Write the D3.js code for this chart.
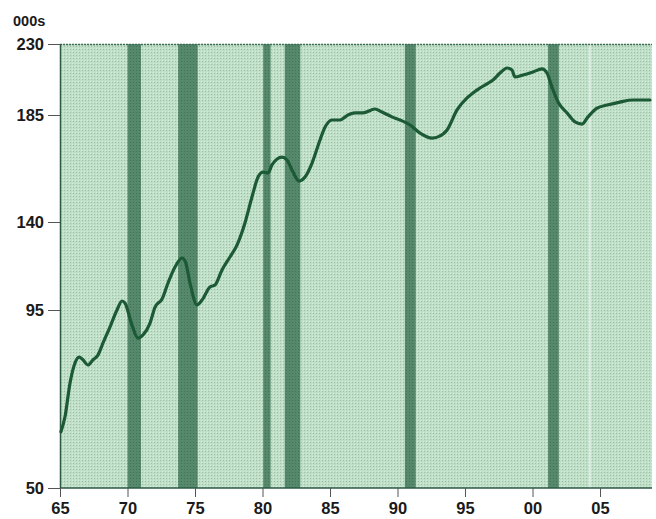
<!DOCTYPE html>
<html>
<head>
<meta charset="utf-8">
<script src="https://cdn.jsdelivr.net/npm/d3@7"></script>
<style>
  body { margin: 0; background: #fff; }
  #chart text { font-family: "Liberation Sans", Arial, sans-serif; font-weight: bold; fill: #1a1a1a; }
</style>
</head>
<body>
<div id="chart"></div>
<script>
// line data (decimal year, thousands)
const years = [1965.07, 1965.37, 1965.74, 1966.11, 1966.41, 1966.70, 1967.07, 1967.44, 1967.81, 1968.19,
  1968.70, 1969.22, 1969.59, 1969.81, 1970.33, 1970.78, 1971.15, 1971.67, 1972.04, 1972.56,
  1973.00, 1973.52, 1974.04, 1974.30, 1974.63, 1975.15, 1975.52, 1976.11, 1976.48, 1977.00,
  1977.59, 1978.11, 1978.70, 1979.22, 1979.67, 1980.04, 1980.41, 1980.70, 1981.44, 1981.81,
  1982.26, 1982.70, 1983.15, 1983.67, 1984.26, 1984.60, 1985.15, 1985.74, 1986.33, 1986.85,
  1987.44, 1988.33, 1988.85, 1989.59, 1990.19, 1990.93, 1991.67, 1992.56, 1993.00, 1993.67,
  1994.41, 1995.15, 1995.59, 1996.11, 1996.85, 1997.07, 1997.59, 1998.11, 1998.48, 1998.70,
  1999.30, 2000.04, 2000.70, 2001.07, 2001.44, 2001.89, 2002.56, 2003.15, 2003.67, 2004.11,
  2004.78, 2005.52, 2006.48, 2007.44, 2008.70];
const values = [64.2, 68.0, 76.5, 81.6, 83.1, 82.4, 81.1, 82.4, 83.6, 86.7,
  90.7, 95.0, 99.6, 98.6, 91.2, 87.9, 88.7, 91.7, 96.5, 100.6,
  108.8, 117.0, 121.6, 119.5, 108.8, 97.6, 100.1, 106.8, 107.8, 115.5,
  122.1, 128.2, 139.5, 150.5, 158.9, 161.0, 160.6, 164.0, 167.3, 166.1,
  161.0, 157.2, 158.9, 164.8, 174.5, 179.5, 182.9, 182.9, 185.0, 186.3,
  186.3, 188.8, 186.9, 184.2, 182.9, 180.8, 177.4, 175.3, 175.8, 178.7,
  188.2, 195.8, 199.0, 202.1, 205.9, 207.2, 211.6, 214.8, 213.5, 209.1,
  210.4, 212.3, 214.2, 211.6, 202.7, 193.2, 186.3, 182.1, 181.2, 184.2,
  189.4, 191.3, 193.2, 194.5, 194.5];

// recessions (shaded bars)
const recStart = [1970.0, 1973.75, 1980.05, 1981.65, 1990.55, 2001.15];
const recEnd   = [1971.0, 1975.2, 1980.6, 1982.8, 1991.35, 2001.95];

// axes
const yTicks = [50, 95, 140, 185, 230];
const xTicks = [1965, 1970, 1975, 1980, 1985, 1990, 1995, 2000, 2005];
const xTickLabels = ["65", "70", "75", "80", "85", "90", "95", "00", "05"];
const unitLabel = "000s";
const markerYear = 2004.25;

/** SIZING */
const width = 656, height = 519;
const pLeft = 60, pRight = 652, pTop = 44, pBottom = 488;

const svg = d3.select("#chart").append("svg")
  .attr("width", width).attr("height", height);

const x = d3.scaleLinear().domain([1965, 2008.85]).range([pLeft, pRight]);
// the published axis is not evenly spaced, so map each tick to where it sits
const y = d3.scaleLinear().domain(yTicks).range([pBottom, 310, 222, 115, pTop]);

/** PATTERNS */
const defs = svg.append("defs");
let bg = defs.append("pattern").attr("id", "bgdots")
  .attr("width", 3).attr("height", 3).attr("patternUnits", "userSpaceOnUse");
bg.append("rect").attr("width", 3).attr("height", 3).attr("fill", "#bfdfc7");
bg.append("rect").attr("x", 1).attr("y", 1).attr("width", 1).attr("height", 1).attr("fill", "#a2bcaa");
bg.append("rect").attr("x", 0).attr("y", 0).attr("width", 1).attr("height", 1).attr("fill", "#d0efe0");

let rb = defs.append("pattern").attr("id", "recdots")
  .attr("width", 3).attr("height", 3).attr("patternUnits", "userSpaceOnUse");
rb.append("rect").attr("width", 3).attr("height", 3).attr("fill", "#56886c");
rb.append("rect").attr("x", 1).attr("y", 1).attr("width", 1).attr("height", 1).attr("fill", "#42725a");

/** PLOT BACKGROUND */
svg.append("rect")
  .attr("x", pLeft).attr("y", pTop)
  .attr("width", pRight - pLeft).attr("height", pBottom - pTop)
  .attr("fill", "url(#bgdots)");

svg.append("g").selectAll("rect")
  .data(recStart).enter()
  .append("rect")
  .attr("x", (d) => x(d))
  .attr("y", pTop)
  .attr("width", (d, i) => x(recEnd[i]) - x(d))
  .attr("height", pBottom - pTop)
  .attr("fill", "url(#recdots)");

svg.append("line")
  .attr("x1", x(markerYear)).attr("x2", x(markerYear))
  .attr("y1", pTop).attr("y2", pBottom)
  .attr("stroke", "#eef5f0").attr("stroke-width", 1.2);

// frame
svg.append("line").attr("x1", pLeft).attr("x2", pRight).attr("y1", pTop + 0.5).attr("y2", pTop + 0.5)
  .attr("stroke", "#3d6e55").attr("stroke-width", 1.5).attr("stroke-dasharray", "2,1");
svg.append("line").attr("x1", pLeft + 0.5).attr("x2", pLeft + 0.5).attr("y1", pTop).attr("y2", pBottom)
  .attr("stroke", "#2d5a45").attr("stroke-width", 1.5);
svg.append("line").attr("x1", pLeft).attr("x2", pRight).attr("y1", pBottom).attr("y2", pBottom)
  .attr("stroke", "#2d5a45").attr("stroke-width", 1.5);

/** LINE */
const line = d3.line()
  .x((d, i) => x(years[i]))
  .y((d) => y(d))
  .curve(d3.curveMonotoneX);
svg.append("path")
  .datum(values)
  .attr("d", line)
  .attr("fill", "none")
  .attr("stroke", "#1b5a35")
  .attr("stroke-width", 3.2)
  .attr("stroke-linejoin", "round")
  .attr("stroke-linecap", "round");

/** AXES */
const yAxis = svg.append("g").attr("transform", `translate(${pLeft},0)`)
  .call(d3.axisLeft(y).tickValues(yTicks).tickSize(12).tickPadding(4).tickFormat(d3.format("d")));
const xAxis = svg.append("g").attr("transform", `translate(0,${pBottom})`)
  .call(d3.axisBottom(x).tickValues(xTicks).tickSize(9).tickPadding(5).tickFormat((d, i) => xTickLabels[i]));
[yAxis, xAxis].forEach((g) => {
  g.select(".domain").remove();
  g.selectAll(".tick line").attr("stroke", "#555").attr("stroke-width", 1);
  g.selectAll(".tick text").attr("font-size", 16.5).style("fill", "#1a1a1a");
});

svg.append("text")
  .text(unitLabel)
  .attr("x", 13)
  .attr("y", 26)
  .attr("font-size", 14.5);
</script>
</body>
</html>
